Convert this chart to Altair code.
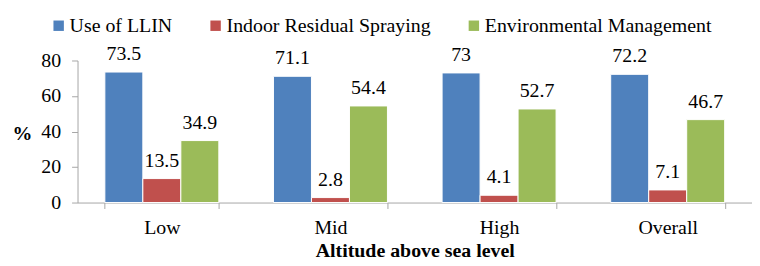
import altair as alt
import pandas as pd

categories = ["Low", "Mid", "High", "Overall"]
series = ["Use of LLIN", "Indoor Residual Spraying", "Environmental  Management"]
llin = [73.5, 71.1, 73.0, 72.2]
irs = [13.5, 2.8, 4.1, 7.1]
env = [34.9, 54.4, 52.7, 46.7]
colors = ["#4F81BD", "#C0504D", "#9BBB59"]
y_ticks = [0, 20, 40, 60, 80]

rows = []
for s, vals in zip(series, [llin, irs, env]):
    for c, v in zip(categories, vals):
        rows.append({"cat": c, "series": s, "value": v})
df = pd.DataFrame(rows)

FONT = "Liberation Serif"
GRAY = "#A6A6A6"

x = alt.X(
    "cat:N",
    sort=categories,
    scale=alt.Scale(paddingInner=0.324, paddingOuter=0.162),
    axis=alt.Axis(
        title="Altitude above sea level",
        labelAngle=0,
        tickBand="extent",
        domainColor=GRAY,
        tickColor=GRAY,
        tickSize=6,
        labelPadding=9,
        labelFont=FONT,
        labelFontSize=20,
        labelColor="black",
        titleFont=FONT,
        titleFontSize=20,
        titleFontWeight="bold",
        titleColor="black",
        titlePadding=3,
    ),
)
xoff = alt.XOffset("series:N", sort=series, scale=alt.Scale(paddingInner=0, paddingOuter=0))
y = alt.Y(
    "value:Q",
    scale=alt.Scale(domain=[0, 80], nice=False),
    axis=alt.Axis(
        values=y_ticks,
        title="%",
        grid=False,
        domainColor=GRAY,
        tickColor=GRAY,
        tickSize=6,
        labelPadding=11,
        labelFont=FONT,
        labelFontSize=20,
        labelColor="black",
        titleFont=FONT,
        titleFontSize=20,
        titleFontWeight="bold",
        titleColor="black",
        titleAngle=0,
        titleAlign="center",
        titleBaseline="middle",
        titleX=-56,
        titleY=74,
    ),
)
color = alt.Color(
    "series:N",
    sort=series,
    scale=alt.Scale(domain=series, range=colors),
    legend=alt.Legend(
        title=None,
        orient="none",
        legendX=-29,
        legendY=-45,
        direction="horizontal",
        symbolType="square",
        symbolSize=110,
        symbolStrokeWidth=0,
        labelFont=FONT,
        labelFontSize=20,
        labelColor="black",
        labelLimit=500,
        labelOffset=1,
        columnPadding=33,
        padding=0,
    ),
)

bars = alt.Chart(df).mark_bar(stroke="white", strokeWidth=1).encode(
    x=x, xOffset=xoff, y=y, color=color
)
labels = alt.Chart(df).mark_text(
    dy=-12, baseline="alphabetic", fontSize=20, font=FONT, color="black"
).encode(
    x=x, xOffset=xoff, y=y, text=alt.Text("value:Q", format=".1~f")
)

chart = alt.layer(bars, labels).properties(
    width=679,
    height=143,
    autosize=alt.AutoSizeParams(type="none"),
    padding={"left": 70, "top": 52, "right": 0, "bottom": 57},
).configure(font=FONT).configure_view(stroke=None)

chart.save("out.html", embed_options={"renderer": "svg", "actions": False})
